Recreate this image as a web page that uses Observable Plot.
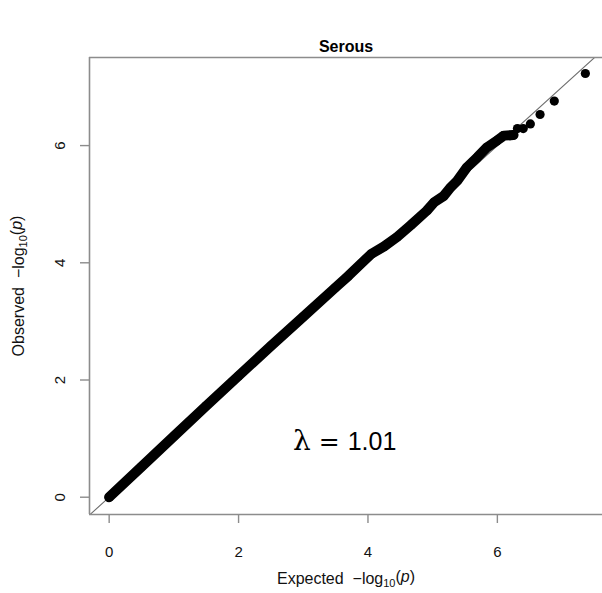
<!DOCTYPE html>
<html>
<head>
<meta charset="utf-8">
<script src="https://cdn.jsdelivr.net/npm/d3@7"></script>
<script src="https://cdn.jsdelivr.net/npm/@observablehq/plot@0.6"></script>
<style>
  html, body { margin: 0; padding: 0; background: #fff; overflow: hidden; }
  svg { display: block; }
</style>
</head>
<body>
<div id="chart"></div>
<script>
// ---- data (expected vs observed -log10 p) ----
const denseExpected = [0, 0.5, 1.0, 1.5, 2.0, 2.5, 3.0, 3.5, 3.7, 4.05, 4.25, 4.45, 4.66, 4.91, 5.02, 5.17, 5.28, 5.38, 5.53, 5.69, 5.84, 6.00, 6.10, 6.25];
const denseObserved = [0, 0.52, 1.04, 1.56, 2.07, 2.58, 3.08, 3.58, 3.78, 4.15, 4.28, 4.44, 4.64, 4.89, 5.03, 5.14, 5.29, 5.40, 5.63, 5.80, 5.97, 6.09, 6.17, 6.18];
const tailExpected = [6.00, 6.10, 6.20, 6.31, 6.40, 6.51, 6.66, 6.88, 7.36];
const tailObserved = [6.09, 6.17, 6.17, 6.29, 6.29, 6.37, 6.53, 6.76, 7.23];
const xTicks = [0, 2, 4, 6];
const yTicks = [0, 2, 4, 6];
const titleText = "Serous";
const xLabelParts = ["Expected  \u2212log", "10", "(", "p", ")"];
const yLabelParts = ["Observed  \u2212log", "10", "(", "p", ")"];
const lambdaParts = ["\u03bb", " = ", "1.01"];

const dense = denseExpected.map((e, i) => ({e, o: denseObserved[i]}));
const tail = tailExpected.map((e, i) => ({e, o: tailObserved[i]}));

const xDomain = [-0.304, 7.625];
const yDomain = [-0.295, 7.503];
const boxColor = "#8c8c8c";
const font = "Liberation Sans, Arial, Helvetica, sans-serif";

const chart = Plot.plot({
  width: 602,
  height: 593,
  marginLeft: 89,
  marginRight: 0,
  marginTop: 57,
  marginBottom: 79,
  style: {fontFamily: font, background: "#fff"},
  x: {domain: xDomain, axis: null},
  y: {domain: yDomain, axis: null},
  marks: [
    // diagonal reference line y = x
    Plot.line([{e: -1, o: -1}, {e: 9, o: 9}], {x: "e", y: "o", stroke: "#6e6e6e", strokeWidth: 1.1, clip: true}),
    // box (top, left, bottom)
    Plot.ruleY([yDomain[1]], {stroke: boxColor, strokeWidth: 1.6}),
    Plot.ruleY([yDomain[0]], {stroke: boxColor, strokeWidth: 1.6}),
    Plot.ruleX([xDomain[0]], {stroke: boxColor, strokeWidth: 1.6}),
    // ticks
    Plot.axisX(xTicks, {tickSize: 9, tickFormat: () => "", stroke: boxColor, strokeWidth: 1.4, label: null}),
    Plot.axisY(yTicks, {tickSize: 9, tickFormat: () => "", stroke: boxColor, strokeWidth: 1.4, label: null}),
    // tick labels
    Plot.text(xTicks, {x: d => d, text: d => String(d), frameAnchor: "bottom", dy: 38, textAnchor: "middle", lineAnchor: "middle", fontSize: 15, fill: "#111"}),
    Plot.text(yTicks, {y: d => d, text: d => String(d), frameAnchor: "left", dx: -29, rotate: -90, textAnchor: "middle", lineAnchor: "middle", fontSize: 15, fill: "#111"}),
    // axis titles
    Plot.text([xLabelParts.join("")], {frameAnchor: "bottom", dy: 64, textAnchor: "middle", lineAnchor: "middle", fontSize: 16, fill: "#111", className: "xlab"}),
    Plot.text([yLabelParts.join("")], {frameAnchor: "left", dx: -71, rotate: -90, textAnchor: "middle", lineAnchor: "middle", fontSize: 16, fill: "#111", className: "ylab"}),
    // main title
    Plot.text([titleText], {frameAnchor: "top", dy: -11, textAnchor: "middle", lineAnchor: "middle", fontSize: 16, fontWeight: "bold", fill: "#000"}),
    // dense QQ points
    Plot.line(dense, {x: "e", y: "o", stroke: "#000", strokeWidth: 10, strokeLinecap: "round", strokeLinejoin: "round"}),
    Plot.dot(dense, {x: "e", y: "o", r: 4.6, fill: "#000", stroke: null}),
    Plot.dot(tail, {x: "e", y: "o", r: 4.6, fill: "#000", stroke: null}),
    // lambda annotation
    Plot.text([{e: 3.64, o: 0.95}], {x: "e", y: "o", text: () => lambdaParts.join(""), fontSize: 25, textAnchor: "middle", lineAnchor: "middle", fill: "#000", className: "lam"})
  ]
});

document.getElementById("chart").appendChild(chart);

function rich(selector, parts, sub) {
  d3.select(chart).selectAll(selector + " text").each(function () {
    const t = d3.select(this);
    t.text(null);
    t.append("tspan").text(parts[0]);
    t.append("tspan").text(parts[1]).attr("font-size", sub).attr("dy", "0.3em");
    t.append("tspan").text(parts[2]).attr("dy", "-0.3em");
    t.append("tspan").text(parts[3]).attr("font-style", "italic");
    t.append("tspan").text(parts[4]);
  });
}
rich(".xlab", xLabelParts, "11px");
rich(".ylab", yLabelParts, "11px");

d3.select(chart).selectAll(".lam text").each(function () {
  const t = d3.select(this);
  t.text(null);
  t.append("tspan").text(lambdaParts[0]).attr("font-family", "DejaVu Serif, serif").attr("font-size", "28px");
  t.append("tspan").text(lambdaParts[1]).attr("font-family", "DejaVu Sans, sans-serif");
  t.append("tspan").text(lambdaParts[2]);
});
</script>
</body>
</html>
